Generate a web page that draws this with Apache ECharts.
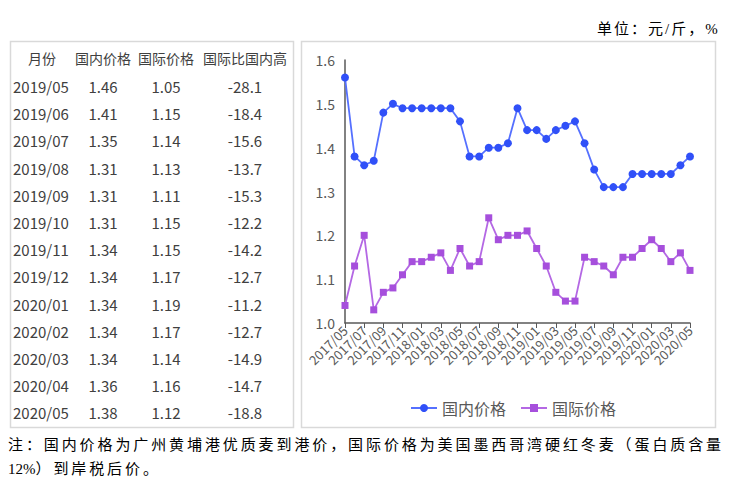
<!DOCTYPE html>
<html><head><meta charset="utf-8">
<script src="https://cdn.jsdelivr.net/npm/echarts@6/dist/echarts.min.js"></script>
<style>
html,body{margin:0;padding:0;background:#fff;}
#c{position:absolute;left:0;top:0;width:730px;height:485px;}
.note{position:absolute;font-family:"Liberation Serif","Noto Sans CJK SC",serif;font-size:15px;color:#000;white-space:nowrap;}
</style></head>
<body>
<div id="c"></div>
<div class="note" id="unit" style="left:597px;top:17px;letter-spacing:2px;">单位：元/斤，%</div>
<div class="note" id="n1" style="left:8px;top:433px;letter-spacing:2.9px;">注：国内价格为广州黄埔港优质麦到港价，国际价格为美国墨西哥湾硬红冬麦（蛋白质含量</div>
<div class="note" id="n2" style="left:8px;top:457px;letter-spacing:2.9px;"><span style="letter-spacing:0">12%</span>）到岸税后价。</div>
<script>
const months = ['2017/05','2017/06','2017/07','2017/08','2017/09','2017/10','2017/11','2017/12',
'2018/01','2018/02','2018/03','2018/04','2018/05','2018/06','2018/07','2018/08','2018/09','2018/10','2018/11','2018/12',
'2019/01','2019/02','2019/03','2019/04','2019/05','2019/06','2019/07','2019/08','2019/09','2019/10','2019/11','2019/12',
'2020/01','2020/02','2020/03','2020/04','2020/05'];
const domestic = [1.56,1.38,1.36,1.37,1.48,1.50,1.49,1.49,
1.49,1.49,1.49,1.49,1.46,1.38,1.38,1.40,1.40,1.41,1.49,1.44,
1.44,1.42,1.44,1.45,1.46,1.41,1.35,1.31,1.31,1.31,1.34,1.34,
1.34,1.34,1.34,1.36,1.38];
const international = [1.04,1.13,1.20,1.03,1.07,1.08,1.11,1.14,
1.14,1.15,1.16,1.12,1.17,1.13,1.14,1.24,1.19,1.20,1.20,1.21,
1.17,1.13,1.07,1.05,1.05,1.15,1.14,1.13,1.11,1.15,1.15,1.17,
1.19,1.17,1.14,1.16,1.12];
const yTicks = [1.0,1.1,1.2,1.3,1.4,1.5,1.6];
const seriesNames = ['国内价格','国际价格'];

const tableHeader = ['月份','国内价格','国际价格','国际比国内高'];
const tableMonths = ['2019/05','2019/06','2019/07','2019/08','2019/09','2019/10','2019/11','2019/12','2020/01','2020/02','2020/03','2020/04','2020/05'];
const tableDomestic = ['1.46','1.41','1.35','1.31','1.31','1.31','1.34','1.34','1.34','1.34','1.34','1.36','1.38'];
const tableInternational = ['1.05','1.15','1.14','1.13','1.11','1.15','1.15','1.17','1.19','1.17','1.14','1.16','1.12'];
const tableDiff = ['-28.1','-18.4','-15.6','-13.7','-15.3','-12.2','-14.2','-12.7','-11.2','-12.7','-14.9','-14.7','-18.8'];

const FONT = '"Noto Sans CJK SC","Noto Sans",sans-serif';
const TXT = '#404040';
const graphics = [
  {type:'rect',shape:{x:10.5,y:41.5,width:283,height:386},style:{fill:'none',stroke:'#d9d9d9',lineWidth:1.5},silent:true},
  {type:'rect',shape:{x:301.5,y:41.5,width:414,height:386},style:{fill:'none',stroke:'#d9d9d9',lineWidth:1.5},silent:true}
];
const colX = [42,103,166,245];
tableHeader.forEach((h,i)=>{
  graphics.push({type:'text',x:colX[i],y:58,style:{text:h,font:'14px '+FONT,fill:TXT,textAlign:'center',textVerticalAlign:'middle'}});
});
const rowY0 = 86.5, rowH = 27.2;
tableMonths.forEach((m,r)=>{
  const y = rowY0 + r*rowH;
  graphics.push({type:'text',x:13,y:y,style:{text:m,font:'15px '+FONT,fill:TXT,textAlign:'left',textVerticalAlign:'middle'}});
  graphics.push({type:'text',x:colX[1],y:y,style:{text:tableDomestic[r],font:'15px '+FONT,fill:TXT,textAlign:'center',textVerticalAlign:'middle'}});
  graphics.push({type:'text',x:colX[2],y:y,style:{text:tableInternational[r],font:'15px '+FONT,fill:TXT,textAlign:'center',textVerticalAlign:'middle'}});
  graphics.push({type:'text',x:colX[3],y:y,style:{text:tableDiff[r],font:'15px '+FONT,fill:TXT,textAlign:'center',textVerticalAlign:'middle'}});
});

const chart = echarts.init(document.getElementById('c'), null, {renderer:'svg'});
chart.setOption({
  animation:false,
  backgroundColor:'#fff',
  textStyle:{fontFamily:FONT},
  graphic:graphics,
  grid:{left:345,right:40,top:60,bottom:162,containLabel:false},
  legend:{
    top:395, left:405,
    data:[{name:seriesNames[0]},{name:seriesNames[1]}],
    itemWidth:26,itemHeight:10,itemGap:14,
    textStyle:{fontSize:16,color:'#595959',fontFamily:FONT}
  },
  xAxis:{
    type:'category',data:months,boundaryGap:false,
    axisLine:{lineStyle:{color:'#595959',width:1.5}},
    axisTick:{show:true,interval:1,length:5,lineStyle:{color:'#595959'}},
    axisLabel:{interval:1,rotate:45,fontSize:13,color:'#595959',margin:5,fontFamily:FONT}
  },
  yAxis:{
    type:'value',min:yTicks[0],max:yTicks[yTicks.length-1],interval:0.1,
    axisLine:{show:true,lineStyle:{color:'#595959',width:1.5}},
    axisTick:{show:false},
    splitLine:{show:false},
    axisLabel:{fontSize:14,color:'#595959',margin:10,formatter:v=>v.toFixed(1),fontFamily:FONT}
  },
  series:[
    {name:seriesNames[0],type:'line',data:domestic,symbol:'circle',symbolSize:8,showAllSymbol:true,
     itemStyle:{color:'#3050f8'},lineStyle:{color:'#5570ff',width:1.8}},
    {name:seriesNames[1],type:'line',data:international,symbol:'rect',symbolSize:7,showAllSymbol:true,
     itemStyle:{color:'#a64fdc'},lineStyle:{color:'#b468e4',width:1.8}}
  ]
});
</script>
</body></html>
